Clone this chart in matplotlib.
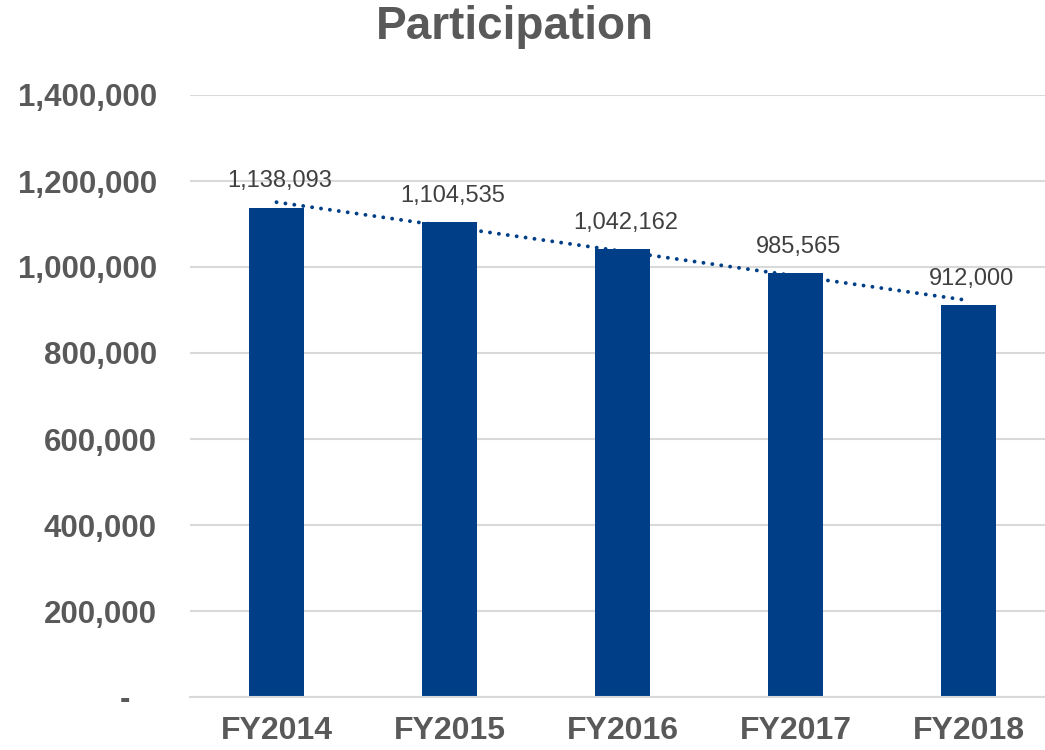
import numpy as np
import matplotlib
matplotlib.use("Agg")
import matplotlib.pyplot as plt

years = ["FY2014", "FY2015", "FY2016", "FY2017", "FY2018"]
participation = [1138093, 1104535, 1042162, 985565, 912000]
yticks = [0, 200000, 400000, 600000, 800000, 1000000, 1200000, 1400000]

BAR = "#003f87"
INK = "#595959"
LABEL = "#404040"
GRID = "#d9d9d9"

plt.rcParams["font.family"] = ["Liberation Sans", "DejaVu Sans"]

fig = plt.figure(figsize=(10.45, 7.5), dpi=100)
ax = fig.add_axes([190 / 1045, 53 / 750, 865 / 1045, 602 / 750])

x = np.arange(len(years))
ax.bar(x, participation, width=0.315, color=BAR, zorder=2)

# linear trendline across the categories
k, b = np.polyfit(x, participation, 1)
ax.plot(x, k * x + b, color=BAR, lw=2.8, ls=(0, (0.01, 2.3)),
        dash_capstyle="round", zorder=3)

for xi, v in zip(x, participation):
    ax.annotate(f"{v:,}", (xi, v), xytext=(2, 11), textcoords="offset points",
                ha="center", va="bottom", fontsize=17, color=LABEL, zorder=4)

ax.set_xlim(-0.5, 4.5)
ax.set_ylim(0, 1400000)
ax.set_yticks(yticks)
# accounting-style zero: dash padded in from the right
ax.set_yticklabels(["-   " if t == 0 else f"{t:,}" for t in yticks],
                   fontsize=22.5, fontweight="bold", color=INK)
ax.set_xticks(x)
ax.set_xticklabels(years, fontsize=23, fontweight="bold", color=INK)
ax.tick_params(length=0, pad=14)
ax.tick_params(axis="y", pad=24)
ax.grid(axis="y", color=GRID, lw=1.5, zorder=0)
ax.set_axisbelow(True)
for sp in ("top", "right", "left"):
    ax.spines[sp].set_visible(False)
ax.spines["bottom"].set_color(GRID)
ax.spines["bottom"].set_linewidth(1.5)

fig.text(515 / 1045, 1 - 27 / 750, "Participation", ha="center", va="center",
         fontsize=33, fontweight="bold", color=INK)

fig.savefig("out.png", dpi=100, facecolor="white")
